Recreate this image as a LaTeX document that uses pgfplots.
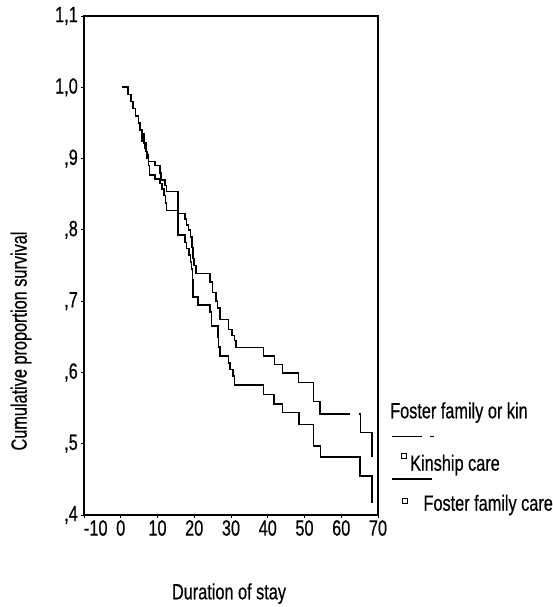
\documentclass[border=0pt]{standalone}
\usepackage{fontspec}
\setmainfont[FakeStretch=0.74, FakeBold=0.5]{Liberation Sans}
\usepackage{pgfplots}
\pgfplotsset{compat=1.18}
\usetikzlibrary{calc}

\begin{document}
\fontsize{22bp}{25bp}\selectfont
\begin{tikzpicture}
\begin{axis}[
  scale only axis,
  width=294bp, height=499bp,
  xmin=-10, xmax=70, ymin=0.4, ymax=1.1,
  xtick={-10,0,10,20,30,40,50,60,70},
  xticklabels={\makebox[0pt][l]{-10},0,10,20,30,40,50,60,70},
  ytick={0.4,0.5,0.6,0.7,0.8,0.9,1.0,1.1},
  yticklabels={{,4},{,5},{,6},{,7},{,8},{,9},{1,0},{1,1}},
  tick align=outside, tick pos=left,
  major tick length=3bp,
  tick style={black, line width=0.8bp},
  axis line style={line width=1.4bp},
  ticklabel style={font=\fontsize{22bp}{25bp}\selectfont},
  xticklabel style={inner sep=2bp},
  yticklabel style={inner sep=3bp},
  clip=false,
  const plot mark left,
]
\coordinate (bl) at (rel axis cs:0,0);
% upper curve
\addplot[black, line width=1.6bp] coordinates {
  (0.3,1.0) (2.0,0.99) (2.8,0.98) (3.3,0.97) (4.0,0.96) (4.8,0.95) (5.3,0.94)
  (5.8,0.925) (6.5,0.915) (7.0,0.905) (7.5,0.896) (9.3,0.89) (10.7,0.880)
  (10.9,0.870) (12.0,0.862) (12.5,0.854) (15.5,0.823) (17.5,0.815) (17.9,0.807)
  (18.4,0.80) (19.0,0.79) (19.4,0.775) (19.7,0.76) (20.0,0.75) (20.4,0.739)
  (24.3,0.727) (25.0,0.712) (26.0,0.70) (26.3,0.69) (27.0,0.674) (29.3,0.660)
  (30.2,0.652) (30.9,0.645) (31.3,0.635) (38.8,0.623) (41.8,0.611) (44.0,0.599)
  (48.4,0.586) (52.5,0.559) (54.2,0.542) (62.5,0.542)
};
\addplot[black, line width=1.6bp] coordinates {
  (64.8,0.542) (65.2,0.516) (68.4,0.481)
};
% lower curve
\addplot[black, line width=1.6bp] coordinates {
  (0.3,1.0) (2.0,0.99) (2.8,0.98) (3.3,0.97) (4.0,0.96) (4.8,0.95) (5.3,0.94)
  (5.8,0.935) (6.3,0.922) (6.8,0.91) (7.2,0.90) (7.5,0.89) (7.8,0.877)
  (9.3,0.871) (10.7,0.865) (11.2,0.857) (11.8,0.848) (12.2,0.838) (12.4,0.827)
  (15.5,0.793) (17.5,0.782) (17.9,0.774) (18.5,0.765) (19.0,0.755) (19.3,0.745)
  (19.5,0.73) (19.7,0.706) (21.1,0.695) (24.3,0.685) (24.7,0.665) (26.4,0.650)
  (26.6,0.636) (27.0,0.623) (29.3,0.613) (29.7,0.604) (30.6,0.595) (31.0,0.582)
  (38.8,0.569) (41.7,0.556) (44.0,0.544) (48.5,0.527) (52.4,0.497) (54.4,0.481)
  (65.1,0.455) (68.4,0.417)
};
\end{axis}
\pgfresetboundingbox
\begin{scope}[shift={(bl)}, x=1bp, y=1bp]
  \path[use as bounding box] (-84,-92) rectangle (469,515);
  % axis titles
  \node[rotate=90, anchor=center] at (-63,174) {Cumulative proportion survival};
  \node[anchor=base] at (145,-84.3) {Duration of stay};
  % legend
  \node[anchor=base west, inner sep=0pt] at (306,96.7) {Foster family or kin};
  \draw[black, line width=0.9bp] (307.7,78.3) -- (337.7,78.3);
  \draw[black, line width=0.9bp] (346,78.3) -- (349.5,78.3);
  \draw[black, line width=0.8bp] (317.7,57) rectangle (322.7,62);
  \node[anchor=base west, inner sep=0pt] at (326,44.3) {Kinship care};
  \draw[black, line width=1.1bp] (307.7,36) -- (347.7,36);
  \draw[black, line width=0.8bp] (318,12) rectangle (323,17);
  \node[anchor=base west, inner sep=0pt] at (339.3,4.3) {Foster family care};
\end{scope}
\end{tikzpicture}
\end{document}
